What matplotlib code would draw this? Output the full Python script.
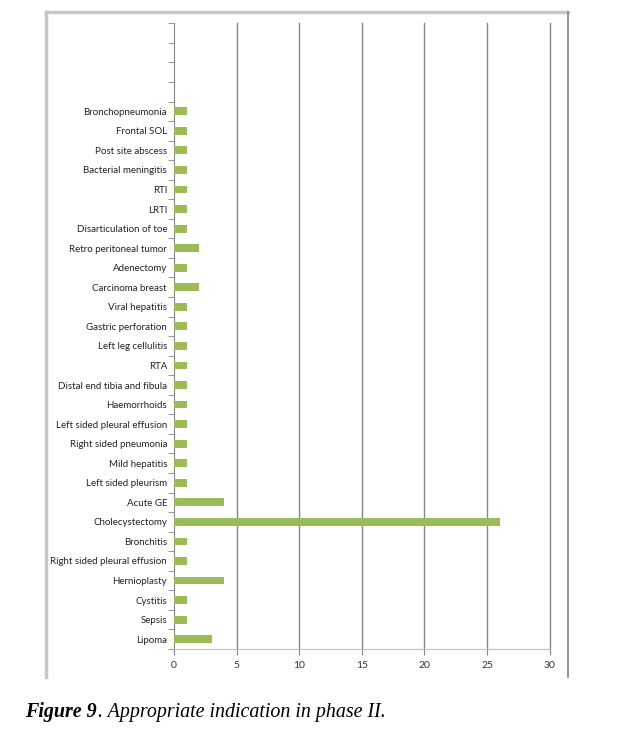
import matplotlib.pyplot as plt
from matplotlib.lines import Line2D

# categories listed top to bottom as in the figure
indications = [
    'Bronchopneumonia', 'Frontal SOL', 'Post site abscess', 'Bacterial meningitis',
    'RTI', 'LRTI', 'Disarticulation of toe', 'Retro peritoneal tumor', 'Adenectomy',
    'Carcinoma breast', 'Viral hepatitis', 'Gastric perforation', 'Left leg cellulitis',
    'RTA', 'Distal end tibia and fibula', 'Haemorrhoids', 'Left sided pleural effusion',
    'Right sided pneumonia', 'Mild hepatitis', 'Left sided pleurism', 'Acute GE',
    'Cholecystectomy', 'Bronchitis', 'Right sided pleural effusion', 'Hernioplasty',
    'Cystitis', 'Sepsis', 'Lipoma',
]
counts = [1, 1, 1, 1, 1, 1, 1, 2, 1, 2, 1, 1, 1, 1, 1, 1, 1, 1, 1, 1, 4, 26, 1, 1, 4, 1, 1, 3]
n_empty = 4  # empty category slots above the first label
x_ticks = [0, 5, 10, 15, 20, 25, 30]

fig = plt.figure(figsize=(6.17, 7.52), dpi=100)
ax = fig.add_axes([0.282, 0.137, 0.609, 0.832])

n = len(indications)
ypos = list(range(n))[::-1]  # Lipoma at bottom
ax.barh(ypos, counts, height=0.4, color='#9BBB59', zorder=3)

ax.set_ylim(-0.5, n - 0.5 + n_empty)
ax.set_xlim(0, 30)
ax.set_yticks(ypos)
ax.set_yticklabels(indications, fontsize=7, family='Lato', color='#222222')
# tick marks sit between categories, like the Excel original
ax.set_yticks([i - 0.5 for i in range(n + n_empty + 1)], minor=True)
ax.tick_params(axis='y', which='major', length=0, pad=5)
ax.tick_params(axis='y', which='minor', length=4, color='#868686', direction='out')
ax.set_xticks(x_ticks)
ax.set_xticklabels([str(t) for t in x_ticks], fontsize=7.5, family='Lato', color='#333333')
ax.tick_params(axis='x', length=4, color='#868686', pad=5)

for t in x_ticks[1:]:
    ax.axvline(t, color='#868686', linewidth=1, zorder=1, clip_on=False)
for s in ['top', 'right']:
    ax.spines[s].set_visible(False)
ax.spines['left'].set_color('#868686')
ax.spines['bottom'].set_color('#bfbfbf')

# outer chart frame (no bottom edge)
fig.add_artist(Line2D([45.5 / 617, 45.5 / 617], [1 - 677 / 752, 1 - 12 / 752],
                      color='#c8c8c8', lw=2.5, transform=fig.transFigure))
fig.add_artist(Line2D([45.5 / 617, 568 / 617], [1 - 12 / 752, 1 - 12 / 752],
                      color='#c8c8c8', lw=2.5, transform=fig.transFigure))
fig.add_artist(Line2D([568 / 617, 568 / 617], [1 - 677 / 752, 1 - 12 / 752],
                      color='#808080', lw=1.2, transform=fig.transFigure))

cap_y = 1 - 712 / 752
t1 = fig.text(25 / 617, cap_y, 'Figure 9', fontsize=14.4, family='Liberation Serif',
              style='italic', weight='bold', va='center')
t2 = fig.text(80 / 617, cap_y, '. Appropriate indication in phase II.', fontsize=14.4,
              family='Liberation Serif', style='italic', va='center')
fig.canvas.draw()
bb = t1.get_window_extent()
t2.set_x((bb.x1 + 1) / fig.bbox.width)

fig.savefig('out.png', dpi=100)
